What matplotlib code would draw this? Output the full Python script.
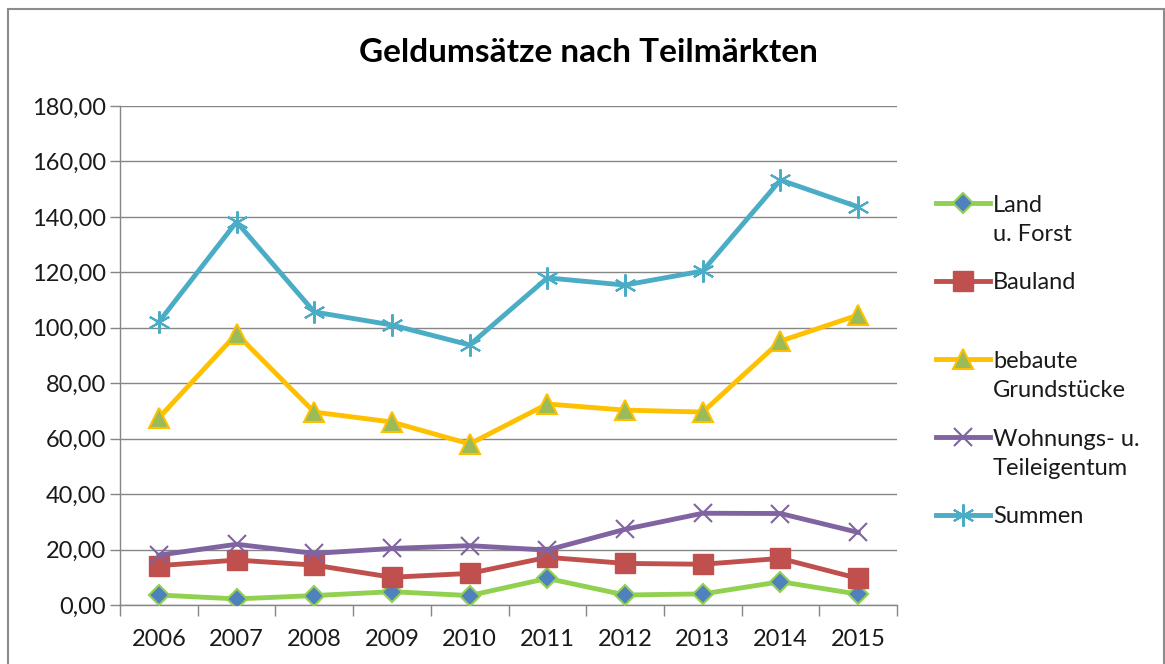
import matplotlib
matplotlib.use("Agg")
import matplotlib.pyplot as plt
from matplotlib.lines import Line2D
from matplotlib.patches import Rectangle
from matplotlib.ticker import FuncFormatter, MultipleLocator

plt.rcParams['font.family'] = ['Lato', 'DejaVu Sans']

# Daten
jahre = ['2006', '2007', '2008', '2009', '2010', '2011', '2012', '2013', '2014', '2015']
land_forst = [3.6, 2.2, 3.4, 4.8, 3.4, 9.6, 3.6, 4.0, 8.4, 3.9]
bauland = [14.2, 16.2, 14.4, 10.0, 11.4, 17.2, 15.0, 14.7, 16.8, 9.6]
bebaute = [67.5, 97.8, 69.6, 66.0, 58.1, 72.5, 70.3, 69.6, 95.2, 104.6]
wohnungs = [18.0, 21.9, 18.6, 20.4, 21.4, 19.8, 27.3, 33.1, 33.0, 26.2]
summen = [102.1, 138.2, 105.7, 101.0, 93.8, 118.0, 115.4, 120.5, 153.3, 143.6]

W, H = 1165, 664
fig = plt.figure(figsize=(W / 100, H / 100), dpi=100)
ax = fig.add_axes([120 / W, 1 - 605 / H, 777 / W, 499 / H])

x = range(len(jahre))
ax.plot(x, land_forst, color='#92D050', lw=3.5, marker='D', ms=10,
        mfc='#4F81BD', mec='#92D050', mew=1.5, label='Land\nu. Forst', zorder=3)
ax.plot(x, bauland, color='#C0504D', lw=3.5, marker='s', ms=14,
        mfc='#C0504D', mec='#C0504D', label='Bauland', zorder=3)
ax.plot(x, bebaute, color='#FFC000', lw=3.5, marker='^', ms=14,
        mfc='#9BBB59', mec='#FFC000', mew=1.5, label='bebaute\nGrundstücke', zorder=3)
ax.plot(x, wohnungs, color='#8064A2', lw=3.5, marker='x', ms=13,
        mec='#8064A2', mew=1.5, label='Wohnungs- u.\nTeileigentum', zorder=3)
ax.plot(x, summen, color='#4BACC6', lw=3.5, marker=(6, 2, 0), ms=16,
        mec='#4BACC6', mew=1.5, label='Summen', zorder=3)

ax.set_xlim(-0.5, len(jahre) - 0.5)
ax.set_ylim(0, 180)
ax.yaxis.set_major_locator(MultipleLocator(20))
ax.yaxis.set_major_formatter(FuncFormatter(lambda v, p: f'{v:.2f}'.replace('.', ',')))
ax.set_xticks(list(x))
ax.set_xticklabels(jahre)
ax.set_xticks([i - 0.5 for i in range(len(jahre) + 1)], minor=True)
ax.tick_params(axis='x', which='major', length=0, pad=17, labelsize=17, colors='#1a1a1a')
ax.tick_params(axis='x', which='minor', length=8, width=1, color='#868686')
ax.tick_params(axis='y', length=7, width=1, color='#868686', labelsize=17,
               labelcolor='#1a1a1a', pad=3)

ax.grid(axis='y', color='#868686', lw=1)
ax.set_axisbelow(True)
for s in ['top', 'right']:
    ax.spines[s].set_visible(False)
for s in ['left', 'bottom']:
    ax.spines[s].set_color('#868686')
    ax.spines[s].set_linewidth(1)

fig.text(588 / W, 1 - 52 / H, 'Geldumsätze nach Teilmärkten',
         ha='center', va='center', fontsize=24, fontweight='bold')

# Legende wie in Excel: feste Höhe je Eintrag, Symbol auf Höhe der ersten Zeile
for i, ln in enumerate(ax.get_lines()):
    yp = 203 + 78 * i
    y = 1 - yp / H
    fig.add_artist(Line2D([936 / W, 990 / W], [y, y], transform=fig.transFigure,
                          color=ln.get_color(), lw=ln.get_linewidth()))
    fig.add_artist(Line2D([963 / W], [y], transform=fig.transFigure, ls='none',
                          marker=ln.get_marker(), ms=ln.get_markersize(),
                          mfc=ln.get_markerfacecolor(), mec=ln.get_markeredgecolor(),
                          mew=ln.get_markeredgewidth()))
    n = ln.get_label().count('\n')
    fig.text(993 / W, 1 - (yp + 8 + 30 * n) / H, ln.get_label(), fontsize=17,
             va='baseline', ha='left', linespacing=1.45, color='#1a1a1a')

fig.patches.append(Rectangle((8 / W, -0.05), 1156 / W, 1 - 9 / H + 0.05,
                             transform=fig.transFigure, fill=False,
                             edgecolor='#8c8c8c', lw=1.5))

fig.savefig('out.png', dpi=100)
